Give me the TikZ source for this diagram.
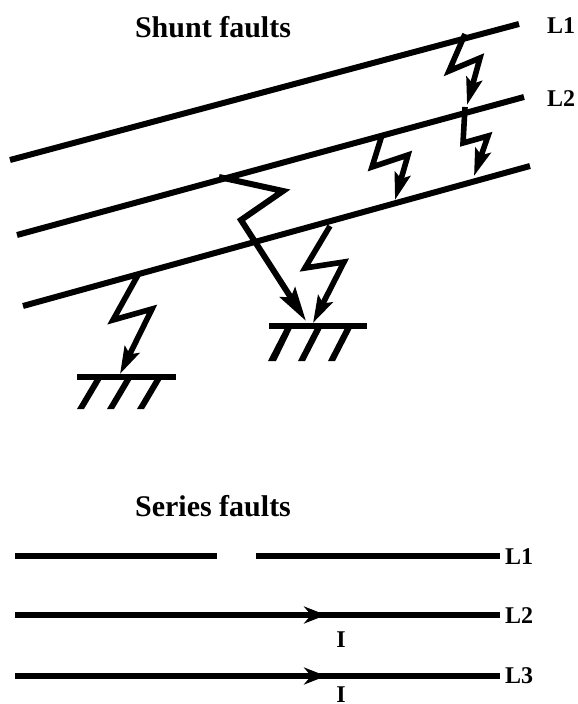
\documentclass[tikz,border=0pt]{standalone}
\usepackage{fontspec}
\setmainfont{Liberation Serif}
\usetikzlibrary{arrows.meta}
\tikzset{
  wire/.style={line width=6pt},
  earth/.style={line width=5.4pt},
  tick/.style={fill=black,draw=none},
  bolt/.style={line width=5.6pt,miter limit=10,-{Stealth[length=27pt,width=16pt,inset=5pt]}},
  bigbolt/.style={line width=6pt,miter limit=10,-{Stealth[length=34pt,width=18pt,inset=6pt]}},
  swire/.style={line width=5.6pt},
  flow/.style={line width=5.6pt,-{Stealth[length=22pt,width=17pt,inset=7pt]}},
  lab/.style={font=\bfseries\fontsize{24}{26}\selectfont,inner sep=0pt},
  ttl/.style={font=\bfseries\fontsize{30}{32}\selectfont,inner sep=0pt}
}
\begin{document}
\begin{tikzpicture}[x=1pt,y=-1pt]
\useasboundingbox (0,0) rectangle (578,704);
% shunt lines
\coordinate (a1) at (10,160); \coordinate (b1) at (519,24);
\coordinate (a2) at (17,235); \coordinate (b2) at (524,97);
\coordinate (a3) at (23,306); \coordinate (b3) at (530,166);
\draw[wire] (a1) -- (b1);
\draw[wire] (a2) -- (b2);
\draw[wire] (a3) -- (b3);
% bolts
\draw[bolt] (465,34) -- (449,71) -- (480,58) -- (467,105);
\draw[bolt] (465,107) -- (463,143) -- (488,136) -- (474,176);
\draw[bolt] (382,135) -- (372,167) -- (408,155) -- (395,200);
\draw[bigbolt] (219,177) -- (283,191) -- (241,220) -- (306,321);
\draw[bolt] (330,226) -- (305,268) -- (344,262) -- (313,323);
\draw[bolt] (138,275) -- (113,320) -- (152,309) -- (120,374);
% earth right
\draw[earth] (269,326) -- (367,326);
\fill[tick] (286,326) -- (293,326) -- (276,361) -- (268,361) -- cycle;
\fill[tick] (316,326) -- (323,326) -- (305,361) -- (298,361) -- cycle;
\fill[tick] (346,326) -- (353,326) -- (335,361) -- (328,361) -- cycle;
% earth left
\draw[earth] (77,377) -- (176,377);
\fill[tick] (96,377) -- (103,377) -- (84,409) -- (77,409) -- cycle;
\fill[tick] (126,377) -- (133,377) -- (114,409) -- (107,409) -- cycle;
\fill[tick] (156,377) -- (163,377) -- (144,409) -- (137,409) -- cycle;
% series
\coordinate (s1a) at (15,556); \coordinate (s1b) at (217,556);
\coordinate (s1c) at (256,556); \coordinate (s1d) at (500,556);
\draw[swire] (s1a) -- (s1b);
\draw[swire] (s1c) -- (s1d);
\coordinate (s2a) at (15,615); \coordinate (s2m) at (326,615); \coordinate (s2b) at (500,615);
\draw[swire] (s2a) -- (s2b);
\draw[flow] (s2a) -- (s2m);
\coordinate (s3a) at (15,676); \coordinate (s3m) at (326,676); \coordinate (s3b) at (500,676);
\draw[swire] (s3a) -- (s3b);
\draw[flow] (s3a) -- (s3m);
% text
\node[ttl,anchor=base] (t1) at (213,37) {Shunt faults};
\node[ttl,anchor=base] (t2) at (213,516) {Series faults};
\node[lab,anchor=base west] (l1) at (547,33) {L1};
\node[lab,anchor=base west] (l2) at (547,106) {L2};
\node[lab,anchor=base west] (s1) at (505,564) {L1};
\node[lab,anchor=base west] (s2) at (505,623) {L2};
\node[lab,anchor=base west] (s3) at (505,683) {L3};
\node[lab,anchor=base] (i1) at (341,647) {I};
\node[lab,anchor=base] (i2) at (341,702) {I};
\end{tikzpicture}
\end{document}
